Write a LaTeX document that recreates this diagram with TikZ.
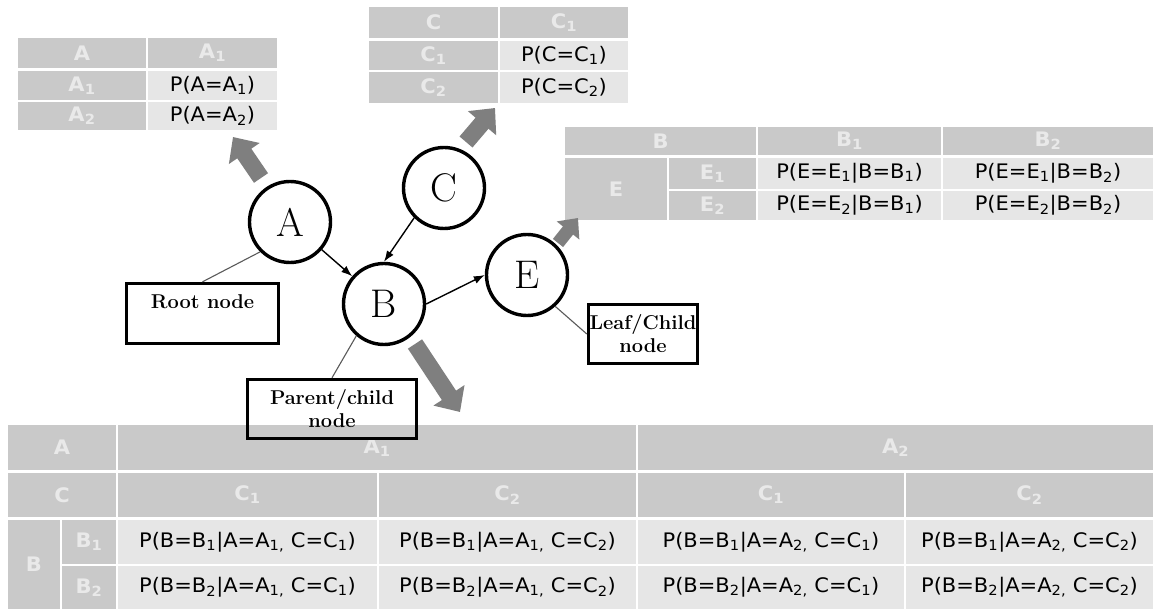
\documentclass[tikz,border=0pt]{standalone}
\usepackage{fontspec}
\usepackage{graphicx}
\usetikzlibrary{arrows.meta}
\newfontfamily\tabfont{DejaVu Sans}

\definecolor{cellhead}{HTML}{C9C9C9}
\definecolor{cellbody}{HTML}{E6E6E6}
\definecolor{headtext}{HTML}{E9E9E9}
\definecolor{blockgray}{HTML}{7F7F7F}
\definecolor{leadgray}{HTML}{5A5A5A}

\newcommand\sub[1]{\textsubscript{#1}}
\newcommand\wide[1]{\scalebox{1.05}[1]{#1}}
% table cell: style, name, x1, y1, x2, y2, text
\newcommand\cell[7]{\node[#1, minimum width={(#5-#3)*1pt}, minimum height={(#6-#4)*1pt}] (#2) at ({(#3+#5)/2},{(#4+#6)/2}) {\wide{#7}};}

\tikzset{
  hcell/.style={fill=cellhead, text=headtext, inner sep=0pt, outer sep=0pt,
    font=\tabfont\bfseries\fontsize{20}{22}\selectfont},
  bcell/.style={fill=cellbody, text=black, inner sep=0pt, outer sep=0pt,
    font=\tabfont\fontsize{20}{22}\selectfont},
  gnode/.style={circle, draw, line width=3.4pt, minimum size=81pt, inner sep=0pt,
    font=\fontsize{40}{44}\selectfont},
  lbox/.style={draw, line width=3.4pt, align=center, inner sep=0pt,
    font=\bfseries\fontsize{20}{23}\selectfont},
  thinarrow/.style={line width=1.4pt, -{Latex[length=11pt,width=8pt]}},
  lead/.style={draw=leadgray, line width=1.1pt},
  blockarrow/.style={draw=blockgray, line width=17pt, -{Triangle[length=20pt,width=36pt]}},
  smallblock/.style={draw=blockgray, line width=13pt, -{Triangle[length=16pt,width=28pt]}}
}

\begin{document}
\begin{tikzpicture}[x=1pt,y=-1pt]
\useasboundingbox[fill=white] (0,0) rectangle (1153,609);

% ---- prior table of A
\cell{hcell}{ta-h0}{18}{38}{146}{68}{A}
\cell{hcell}{ta-h1}{148}{38}{277}{68}{A\sub{1}}
\cell{hcell}{ta-r1}{18}{71}{146}{100}{A\sub{1}}
\cell{bcell}{ta-p1}{148}{71}{277}{100}{P(A=A\sub{1})}
\cell{hcell}{ta-r2}{18}{102}{146}{130}{A\sub{2}}
\cell{bcell}{ta-p2}{148}{102}{277}{130}{P(A=A\sub{2})}

% ---- prior table of C
\cell{hcell}{tc-h0}{369}{7}{498}{38}{C}
\cell{hcell}{tc-h1}{500}{7}{628}{38}{C\sub{1}}
\cell{hcell}{tc-r1}{369}{41}{498}{70}{C\sub{1}}
\cell{bcell}{tc-p1}{500}{41}{628}{70}{P(C=C\sub{1})}
\cell{hcell}{tc-r2}{369}{72}{498}{103}{C\sub{2}}
\cell{bcell}{tc-p2}{500}{72}{628}{103}{P(C=C\sub{2})}

% ---- conditional table of E given B
\cell{hcell}{te-h0}{565}{127}{756}{155}{B}
\cell{hcell}{te-h1}{758}{127}{941}{155}{B\sub{1}}
\cell{hcell}{te-h2}{943}{127}{1153}{155}{B\sub{2}}
\cell{hcell}{te-e}{565}{158}{667}{220}{E}
\cell{hcell}{te-e1}{669}{158}{756}{189}{E\sub{1}}
\cell{hcell}{te-e2}{669}{191}{756}{220}{E\sub{2}}
\cell{bcell}{te-p11}{758}{158}{941}{189}{P(E=E\sub{1}|B=B\sub{1})}
\cell{bcell}{te-p12}{943}{158}{1153}{189}{P(E=E\sub{1}|B=B\sub{2})}
\cell{bcell}{te-p21}{758}{191}{941}{220}{P(E=E\sub{2}|B=B\sub{1})}
\cell{bcell}{te-p22}{943}{191}{1153}{220}{P(E=E\sub{2}|B=B\sub{2})}

% ---- conditional table of B given A and C
\cell{hcell}{tb-a}{8}{425}{116}{470}{A}
\cell{hcell}{tb-a1}{118}{425}{636}{470}{A\sub{1}}
\cell{hcell}{tb-a2}{638}{425}{1153}{470}{A\sub{2}}
\cell{hcell}{tb-c}{8}{473}{116}{517}{C}
\cell{hcell}{tb-c11}{118}{473}{377}{517}{C\sub{1}}
\cell{hcell}{tb-c12}{379}{473}{636}{517}{C\sub{2}}
\cell{hcell}{tb-c21}{638}{473}{904}{517}{C\sub{1}}
\cell{hcell}{tb-c22}{906}{473}{1153}{517}{C\sub{2}}
\cell{hcell}{tb-b}{8}{520}{60}{609}{B}
\cell{hcell}{tb-b1}{62}{520}{116}{564}{B\sub{1}}
\cell{hcell}{tb-b2}{62}{566}{116}{609}{B\sub{2}}
\cell{bcell}{tb-p11}{118}{520}{377}{564}{P(B=B\sub{1}|A=A\sub{1,} C=C\sub{1})}
\cell{bcell}{tb-p12}{379}{520}{636}{564}{P(B=B\sub{1}|A=A\sub{1,} C=C\sub{2})}
\cell{bcell}{tb-p13}{638}{520}{904}{564}{P(B=B\sub{1}|A=A\sub{2,} C=C\sub{1})}
\cell{bcell}{tb-p14}{906}{520}{1153}{564}{P(B=B\sub{1}|A=A\sub{2,} C=C\sub{2})}
\cell{bcell}{tb-p21}{118}{566}{377}{609}{P(B=B\sub{2}|A=A\sub{1,} C=C\sub{1})}
\cell{bcell}{tb-p22}{379}{566}{636}{609}{P(B=B\sub{2}|A=A\sub{1,} C=C\sub{2})}
\cell{bcell}{tb-p23}{638}{566}{904}{609}{P(B=B\sub{2}|A=A\sub{2,} C=C\sub{1})}
\cell{bcell}{tb-p24}{906}{566}{1153}{609}{P(B=B\sub{2}|A=A\sub{2,} C=C\sub{2})}

% ---- network nodes
\node[gnode] (A) at (290,222) {A};
\node[gnode] (C) at (444,188) {C};
\node[gnode] (B) at (384,304) {B};
\node[gnode] (E) at (527,275) {E};

% ---- callout boxes
\node[lbox, minimum width=152pt, minimum height=60pt] (root) at (202.5,313.5) {Root node\\\phantom{node}};
\node[lbox, minimum width=169pt, minimum height=59pt] (parent) at (332,409) {Parent/child\\node};
\node[lbox, minimum width=109pt, minimum height=59pt] (leaf) at (643,334) {Leaf/Child\\node};

% ---- edges of the network
\draw[thinarrow] (A) -- (B);
\draw[thinarrow] (C.225) -- (B.90);
\draw[thinarrow] (B.0) -- (E.180);

% ---- leader lines to the callouts
\draw[lead] (root.north) -- (A.225);
\draw[lead] (parent.north) -- (B.229);
\draw[lead] (leaf.west) -- (E.312);

% ---- block arrows pointing at the tables
\coordinate (aS) at (261,178);  \coordinate (aT) at (233,137);
\coordinate (cS) at (466,142);  \coordinate (cT) at (495,108);
\coordinate (eS) at (558,243);  \coordinate (eT) at (578,218);
\coordinate (bS) at (415,344);  \coordinate (bT) at (460,412);
\draw[blockarrow] (aS) -- (aT);
\draw[blockarrow] (cS) -- (cT);
\draw[smallblock] (eS) -- (eT);
\draw[blockarrow] (bS) -- (bT);
\end{tikzpicture}
\end{document}
